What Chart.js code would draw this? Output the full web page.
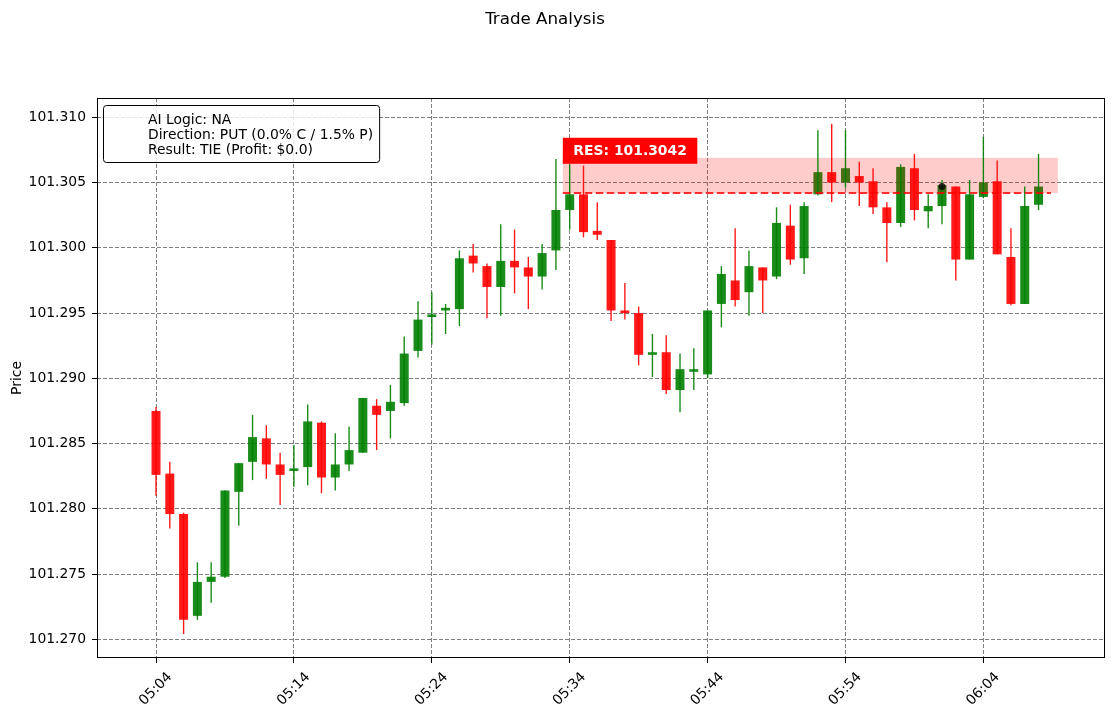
<!DOCTYPE html>
<html>
<head>
<meta charset="utf-8">
<title>Trade Analysis</title>
<script src="https://cdn.jsdelivr.net/npm/chart.js@4.4.1/dist/chart.umd.min.js"></script>
<style>
    html, body { margin: 0; padding: 0; background: #fff; }
    #wrap { width: 1114px; height: 716px; }
</style>
</head>
<body>
<div id="wrap"><canvas id="canvas" width="1114" height="716"></canvas></div>
<script>
// one candle per minute
var times = [
    '05:04', '05:05', '05:06', '05:07', '05:08', '05:09', '05:10', '05:11', '05:12', '05:13',
    '05:14', '05:15', '05:16', '05:17', '05:18', '05:19', '05:20', '05:21', '05:22', '05:23',
    '05:24', '05:25', '05:26', '05:27', '05:28', '05:29', '05:30', '05:31', '05:32', '05:33',
    '05:34', '05:35', '05:36', '05:37', '05:38', '05:39', '05:40', '05:41', '05:42', '05:43',
    '05:44', '05:45', '05:46', '05:47', '05:48', '05:49', '05:50', '05:51', '05:52', '05:53',
    '05:54', '05:55', '05:56', '05:57', '05:58', '05:59', '06:00', '06:01', '06:02', '06:03',
    '06:04', '06:05', '06:06', '06:07', '06:08'
];
var openP = [
    101.2875, 101.2827, 101.2796, 101.2718, 101.2744, 101.2748, 101.2813, 101.2836, 101.2854, 101.2834,
    101.2829, 101.2832, 101.2866, 101.2824, 101.2834, 101.2843, 101.2879, 101.2875, 101.2881, 101.2921,
    101.2947, 101.2952, 101.2953, 101.2994, 101.2986, 101.2970, 101.2990, 101.2985, 101.2978, 101.2998,
    101.3029, 101.3041, 101.3013, 101.3006, 101.2952, 101.2950, 101.2918, 101.2920, 101.2891, 101.2905,
    101.2903, 101.2957, 101.2975, 101.2966, 101.2985, 101.2978, 101.3017, 101.2992, 101.3041, 101.3058,
    101.3050, 101.3055, 101.3051, 101.3031, 101.3019, 101.3061, 101.3028, 101.3032, 101.3047, 101.2991,
    101.3039, 101.3051, 101.2993, 101.2957, 101.3033
];
var highP = [
    101.2878, 101.2836, 101.2797, 101.2759, 101.2759, 101.2814, 101.2835, 101.2872, 101.2864, 101.2843,
    101.2849, 101.2880, 101.2867, 101.2858, 101.2863, 101.2885, 101.2884, 101.2895, 101.2932, 101.2959,
    101.2966, 101.2957, 101.2998, 101.3003, 101.2988, 101.3018, 101.3014, 101.2993, 101.3003, 101.3068,
    101.3064, 101.3063, 101.3035, 101.3006, 101.2973, 101.2955, 101.2934, 101.2933, 101.2919, 101.2923,
    101.2952, 101.2986, 101.3015, 101.2998, 101.2985, 101.3031, 101.3033, 101.3035, 101.3090, 101.3095,
    101.3090, 101.3066, 101.3061, 101.3035, 101.3064, 101.3072, 101.3041, 101.3052, 101.3047, 101.3052,
    101.3085, 101.3067, 101.3015, 101.3047, 101.3072
];
var lowP = [
    101.2810, 101.2785, 101.2704, 101.2715, 101.2728, 101.2747, 101.2787, 101.2822, 101.2823, 101.2803,
    101.2817, 101.2818, 101.2812, 101.2814, 101.2829, 101.2843, 101.2845, 101.2854, 101.2879, 101.2916,
    101.2926, 101.2934, 101.2940, 101.2981, 101.2946, 101.2948, 101.2965, 101.2953, 101.2968, 101.2983,
    101.3014, 101.3008, 101.3006, 101.2944, 101.2945, 101.2910, 101.2901, 101.2888, 101.2874, 101.2891,
    101.2900, 101.2939, 101.2955, 101.2948, 101.2950, 101.2976, 101.2987, 101.2980, 101.3040, 101.3035,
    101.3046, 101.3032, 101.3026, 101.2989, 101.3016, 101.3021, 101.3015, 101.3018, 101.2975, 101.2991,
    101.3038, 101.2995, 101.2956, 101.2957, 101.3029
];
var closeP = [
    101.2826, 101.2796, 101.2715, 101.2744, 101.2748, 101.2814, 101.2835, 101.2855, 101.2834, 101.2826,
    101.2831, 101.2867, 101.2824, 101.2834, 101.2845, 101.2885, 101.2872, 101.2882, 101.2919, 101.2945,
    101.2949, 101.2954, 101.2992, 101.2988, 101.2970, 101.2990, 101.2985, 101.2978, 101.2996, 101.3029,
    101.3041, 101.3012, 101.3010, 101.2952, 101.2950, 101.2918, 101.2920, 101.2891, 101.2907, 101.2907,
    101.2952, 101.2980, 101.2960, 101.2986, 101.2975, 101.3019, 101.2991, 101.3032, 101.3058, 101.3050,
    101.3061, 101.3050, 101.3031, 101.3019, 101.3062, 101.3029, 101.3032, 101.3048, 101.2991, 101.3041,
    101.3050, 101.2995, 101.2957, 101.3032, 101.3047
];

var tickLabels = ['05:04', '05:14', '05:24', '05:34', '05:44', '05:54', '06:04'];
var priceTicks = [101.270, 101.275, 101.280, 101.285, 101.290, 101.295, 101.300, 101.305, 101.310];

// resistance zone and entry
var resLevel = 101.3042;
var resTop = 101.3069;
var resFrom = 29.5;      // minutes after 05:04
var resTo = 65.4;
var resLineTo = 64.9;
var entryTime = '06:01';
var entryPrice = 101.3047;

var infoLines = ['AI Logic: NA', 'Direction: PUT (0.0% C / 1.5% P)', 'Result: TIE (Profit: $0.0)'];

var UP = 'rgba(0,128,0,0.9)';
var DOWN = 'rgba(255,0,0,0.9)';
var FONT = "'DejaVu Sans', sans-serif";

function toMin(t) {
    var p = t.split(':');
    return (+p[0]) * 60 + (+p[1]) - (5 * 60 + 4);
}
function toLabel(m) {
    var total = m + 5 * 60 + 4;
    var h = Math.floor(total / 60), mm = total % 60;
    return (h < 10 ? '0' : '') + h + ':' + (mm < 10 ? '0' : '') + mm;
}

var colors = times.map(function (t, i) { return closeP[i] >= openP[i] ? UP : DOWN; });
var bodies = times.map(function (t, i) { return { x: toMin(t), y: [openP[i], closeP[i]] }; });
var wicks = times.map(function (t, i) { return { x: toMin(t), y: [lowP[i], highP[i]] }; });

var overlay = {
    id: 'overlay',
    beforeDatasetDraw: function (chart, args) {
        if (args.index !== 1) return;
        // pink zone sits over the bodies, under the wicks
        var x = chart.scales.x, y = chart.scales.y, ctx = chart.ctx;
        var x0 = x.getPixelForValue(resFrom), x1 = x.getPixelForValue(resTo);
        var y0 = y.getPixelForValue(resTop), y1 = y.getPixelForValue(resLevel);
        ctx.save();
        ctx.fillStyle = 'rgba(255,0,0,0.2)';
        ctx.fillRect(x0, y0, x1 - x0, y1 - y0);
        ctx.restore();
    },
    afterDatasetsDraw: function (chart) {
        var x = chart.scales.x, y = chart.scales.y, ctx = chart.ctx, ca = chart.chartArea;
        ctx.save();

        // RES label
        var txt = 'RES: ' + resLevel.toFixed(4);
        ctx.font = 'bold 13.9px ' + FONT;
        var tw = ctx.measureText(txt).width;
        var bx = x.getPixelForValue(resFrom);
        var by = y.getPixelForValue(resTop) - 20;
        ctx.fillStyle = 'rgba(255,0,0,1)';
        ctx.fillRect(bx, by, tw + 21, 26);
        ctx.fillStyle = '#fff';
        ctx.textBaseline = 'alphabetic';
        ctx.fillText(txt, bx + 10.5, by + 17);

        // info box
        ctx.font = '13.9px ' + FONT;
        var w = 0;
        infoLines.forEach(function (l) { w = Math.max(w, ctx.measureText(l).width); });
        var lx = ca.left + 6, ly = ca.top + 7, lw = w + 51, lh = 57;
        ctx.beginPath();
        ctx.roundRect(lx + 0.5, ly + 0.5, lw, lh, 3);
        ctx.fillStyle = 'rgba(255,255,255,0.8)';
        ctx.fill();
        ctx.lineWidth = 1;
        ctx.strokeStyle = '#000';
        ctx.stroke();
        ctx.fillStyle = '#000';
        infoLines.forEach(function (l, i) {
            ctx.fillText(l, ca.left + 51, ca.top + 25.5 + i * 15.4);
        });
        ctx.restore();
    },
    afterDraw: function (chart) {
        var ctx = chart.ctx, ca = chart.chartArea;
        ctx.save();
        ctx.strokeStyle = '#000';
        ctx.lineWidth = 1;
        ctx.strokeRect(ca.left + 0.5, ca.top + 0.5, ca.right - ca.left - 1, ca.bottom - ca.top - 1);
        ctx.fillStyle = '#000';
        ctx.font = '16.7px ' + FONT;
        ctx.textAlign = 'center';
        ctx.textBaseline = 'alphabetic';
        ctx.fillText('Trade Analysis', 545, 24);
        ctx.restore();
    }
};

Chart.defaults.font.family = FONT;
Chart.defaults.color = '#000';

var gridOpts = {
    color: 'rgba(0,0,0,0.5)',
    lineWidth: 1,
    offset: false,
    tickLength: 5,
    tickColor: '#000',
    tickWidth: 1,
    tickBorderDash: []
};
var borderOpts = { display: false, dash: [4, 2] };

window.onload = function () {
    var ctx = document.getElementById('canvas').getContext('2d');
    window.myChart = new Chart(ctx, {
        type: 'bar',
        data: {
            datasets: [{
                label: 'body',
                data: bodies,
                backgroundColor: colors,
                barThickness: 9,
                inflateAmount: 0,
                grouped: false,
                order: 3
            }, {
                label: 'wick',
                data: wicks,
                backgroundColor: colors,
                barThickness: 1.4,
                inflateAmount: 0,
                grouped: false,
                order: 2
            }, {
                type: 'line',
                label: 'resistance',
                data: [{ x: resFrom, y: resLevel }, { x: resLineTo, y: resLevel }],
                borderColor: 'rgba(255,0,0,0.8)',
                borderWidth: 2,
                borderDash: [7.5, 3.5],
                pointRadius: 0,
                fill: false,
                order: 1
            }, {
                type: 'line',
                label: 'entry',
                data: [{ x: toMin(entryTime), y: entryPrice }],
                showLine: false,
                pointRadius: 3.5,
                pointBorderWidth: 0,
                pointBackgroundColor: 'rgba(0,0,0,0.8)',
                order: 0
            }]
        },
        plugins: [overlay],
        options: {
            responsive: false,
            animation: false,
            layout: { padding: { left: 0, right: 9, top: 98, bottom: 0 } },
            plugins: {
                legend: { display: false },
                title: { display: false },
                tooltip: { enabled: false }
            },
            scales: {
                x: {
                    type: 'linear',
                    offset: false,
                    min: -4.28,
                    max: 68.82,
                    afterBuildTicks: function (axis) {
                        axis.ticks = tickLabels.map(function (t) { return { value: toMin(t) }; });
                    },
                    afterFit: function (axis) { axis.height = 58; },
                    ticks: {
                        autoSkip: false,
                        minRotation: 45,
                        maxRotation: 45,
                        labelOffset: 14,
                        padding: 6,
                        font: { size: 13.9 },
                        callback: function (v) { return toLabel(v); }
                    },
                    grid: gridOpts,
                    border: borderOpts
                },
                y: {
                    min: 101.26857,
                    max: 101.31148,
                    afterBuildTicks: function (axis) {
                        axis.ticks = priceTicks.map(function (v) { return { value: v }; });
                    },
                    afterFit: function (axis) { axis.width = 97; },
                    ticks: {
                        padding: 6,
                        font: { size: 13.9 },
                        callback: function (v) { return v.toFixed(3); }
                    },
                    grid: gridOpts,
                    border: borderOpts,
                    title: {
                        display: true,
                        text: 'Price',
                        font: { size: 13.9 },
                        padding: { top: 9, bottom: 0 }
                    }
                }
            }
        }
    });
};
</script>
</body>
</html>
